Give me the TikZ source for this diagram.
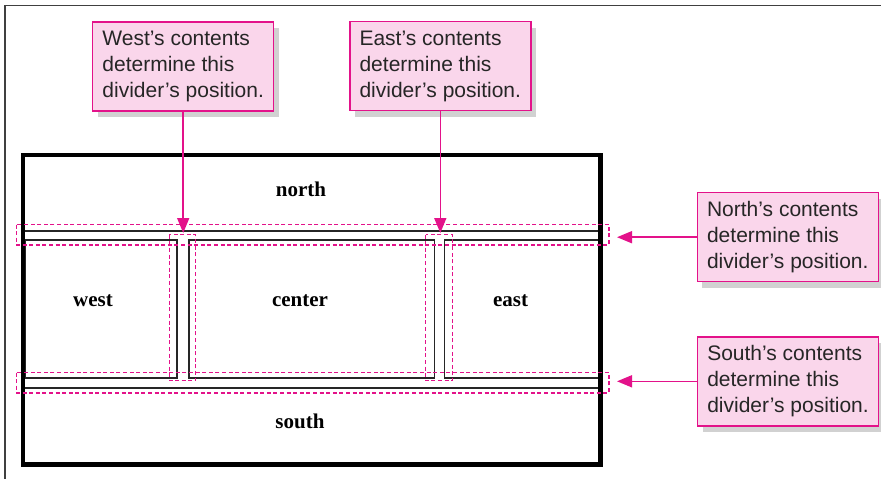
\documentclass[tikz,border=0pt]{standalone}
\usepackage{fontspec}
\setmainfont{Liberation Serif}
\newfontfamily\callfont{Liberation Sans}
\usetikzlibrary{arrows.meta,shadows}
\definecolor{mag}{HTML}{E3128A}
\definecolor{pinkfill}{HTML}{FAD6EB}
\definecolor{txt}{HTML}{262626}
\begin{document}
\begin{tikzpicture}[x=1pt,y=-1pt,
  outerframe/.style={black!75, line width=1.2pt},
  mainframe/.style={line width=4.2pt, black},
  divline/.style={line width=1.6pt, black!85},
  guide/.style={mag, line width=1.4pt, dash pattern=on 4pt off 2.6pt},
  lbl/.style={font=\fontsize{21}{24}\selectfont\bfseries, inner sep=0pt, anchor=base},
  callout/.style={draw=mag, line width=1.4pt, fill=pinkfill, text=txt,
    font=\callfont\fontsize{21}{26}\selectfont, align=left,
    inner xsep=6pt, inner ysep=0pt, minimum width=181pt, minimum height=89pt,
    drop shadow={shadow xshift=5pt, shadow yshift=-6pt, fill=black, opacity=0.18}},
  pointer/.style={mag, line width=1.6pt, -{Triangle[length=15pt,width=12pt]}}
]
\useasboundingbox (0,0) rectangle (881,479);
\fill[white] (0,0) rectangle (881,479);
\draw[outerframe] (5,479) -- (5,5.5) -- (881,5.5);

% panels
\draw[divline] (25,230.7) -- (598.5,230.7);
\draw[divline] (25,240) rectangle (176.7,378);
\draw[divline] (188.7,240) rectangle (434.3,378);
\draw[divline] (444.3,240) rectangle (598.5,378);
\draw[divline] (25,388) -- (598.5,388);
\draw[mainframe] (23,155.3) rectangle (600.5,464.5);

% labels
\node[lbl] (lnorth) at (301,196) {north};
\node[lbl] (lwest) at (93,306) {west};
\node[lbl] (lcenter) at (300,306) {center};
\node[lbl] (least) at (510.5,306) {east};
\node[lbl] (lsouth) at (300,428) {south};

% dashed divider outlines
\draw[guide] (16.7,224.5) rectangle (609,245);
\draw[guide] (16.7,372.5) rectangle (609,393);
\draw[guide] (169.3,234.7) rectangle (195.7,380.7);
\draw[guide] (425.7,234.5) rectangle (452.3,380.7);

% callouts
\node[callout] (cwest) at (183.2,66.3) {West’s contents\\determine this\\divider’s position.};
\node[callout] (ceast) at (440.3,66) {East’s contents\\determine this\\divider’s position.};
\node[callout] (cnorth) at (787.8,237.2) {North’s contents\\determine this\\divider’s position.};
\node[callout] (csouth) at (788,381.3) {South’s contents\\determine this\\divider’s position.};

\coordinate (twest) at (183.2,233);
\coordinate (teast) at (440.3,233);
\coordinate (tnorth) at (617,237.2);
\coordinate (tsouth) at (617,381.3);

\draw[pointer] (cwest.south) -- (twest);
\draw[pointer] (ceast.south) -- (teast);
\draw[pointer] (cnorth.west) -- (tnorth);
\draw[pointer] (csouth.west) -- (tsouth);
\end{tikzpicture}
\end{document}
